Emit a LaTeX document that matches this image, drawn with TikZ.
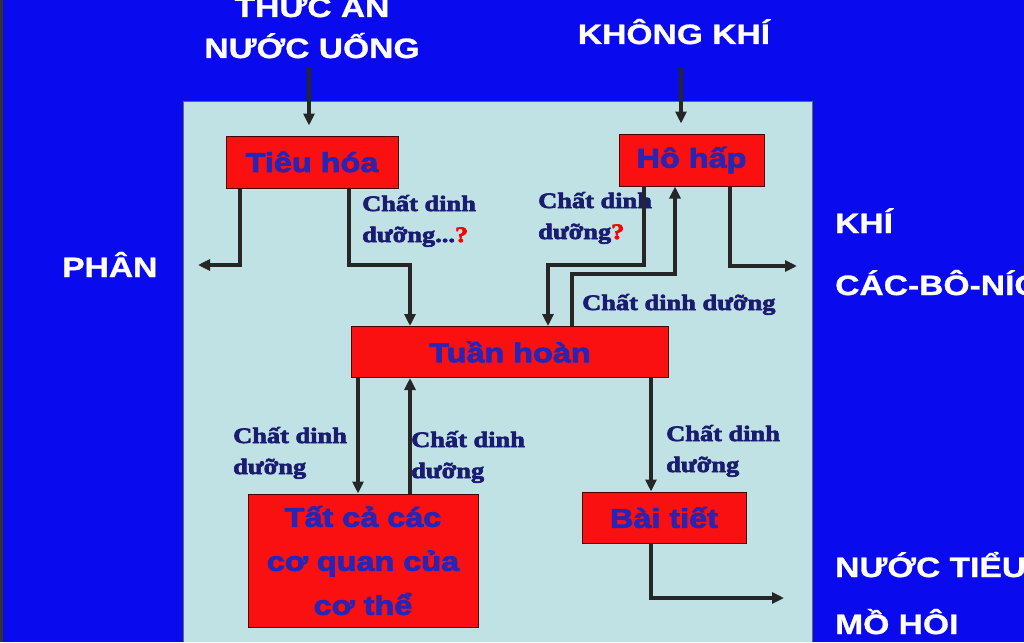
\documentclass[tikz,border=0pt]{standalone}
\usepackage{fontspec}
\usetikzlibrary{arrows.meta}
\newfontfamily\wsans{Liberation Sans}[UprightFont={* Bold}, FakeStretch=1.2, FakeBold=1]
\newfontfamily\bsans{Liberation Sans}[UprightFont={* Bold}, FakeStretch=1.2, FakeBold=3]
\newfontfamily\wserif{Liberation Serif}[UprightFont={* Bold}, FakeStretch=1.2, FakeBold=3]
\definecolor{bgblue}{RGB}{10,10,238}
\definecolor{panel}{RGB}{192,226,229}
\definecolor{boxred}{RGB}{250,16,16}
\definecolor{boxtext}{RGB}{40,36,180}
\definecolor{labtext}{RGB}{26,28,112}
\tikzset{
  box/.style={draw=black!70!red, line width=1pt, fill=boxred, text=boxtext,
    font=\bsans\fontsize{27}{44}\selectfont, inner sep=0pt, align=center},
  whitetxt/.style={text=white, font=\wsans\fontsize{28}{41}\selectfont, inner sep=0pt, align=center},
  labtxt/.style={text=labtext, font=\wserif\fontsize{22}{31}\selectfont, inner sep=0pt, align=left, anchor=base west},
  arr/.style={line width=3.2pt, draw=black!85, -{Triangle[length=12pt,width=11pt]}},
}
\begin{document}
\begin{tikzpicture}[x=1pt,y=-1pt]
\useasboundingbox (0,0) rectangle (1024,642);
\clip (0,0) rectangle (1024,642);
\fill[bgblue] (0,0) rectangle (1024,642);
\fill[black!80] (0,0) rectangle (3,642);
\fill[panel] (183,101) rectangle (812,642);
\draw[black!60, line width=0.8pt] (183,642) -- (183,101) -- (812,101) -- (812,642);

% boxes
\node[box, minimum width=172pt, minimum height=52pt] (tieuhoa) at (312,162) {Tiêu hóa};
\node[box, minimum width=145pt, minimum height=52pt] (hohap) at (691.5,160) {Hô hấp};
\node[box, minimum width=317pt, minimum height=51pt] (tuanhoan) at (510,352) {Tuần hoàn};
\node[box, minimum width=230pt, minimum height=133pt] (tatca) at (363,560.5) {Tất cả các\\cơ quan của\\cơ thể};
\node[box, minimum width=164pt, minimum height=51pt] (baitiet) at (664,517.5) {Bài tiết};

% white texts
\node[whitetxt, anchor=base] (thucan) at (312,58) {THỨC ĂN\\NƯỚC UỐNG};
\node[whitetxt, anchor=base] (khongkhi) at (674,44) {KHÔNG KHÍ};
\node[whitetxt, anchor=base west] (phan) at (62,277) {PHÂN};
\node[whitetxt, anchor=base west] (khi) at (835,233) {KHÍ};
\node[whitetxt, anchor=base west] (cacbonic) at (835,295) {CÁC-BÔ-NÍC};
\node[whitetxt, anchor=base west] (nuoctieu) at (835,577) {NƯỚC TIỂU};
\node[whitetxt, anchor=base west] (mohoi) at (835,634) {MỒ HÔI};

% labels (base = last line)
\node[labtxt] (lab1) at (362,242) {Chất dinh\\dưỡng...\textcolor{red}{?}};
\node[labtxt] (lab2) at (538,239) {Chất dinh\\dưỡng\textcolor{red}{?}};
\node[labtxt] (lab3) at (582,310) {Chất dinh dưỡng};
\node[labtxt] (lab4) at (233,474) {Chất dinh\\dưỡng};
\node[labtxt] (lab5) at (411,478) {Chất dinh\\dưỡng};
\node[labtxt] (lab6) at (666,472) {Chất dinh\\dưỡng};

% free ends
\coordinate (phanin) at (198,265);
\coordinate (khiin) at (797,266);
\coordinate (nuocin) at (784,598);

% connectors
\draw[arr] (tieuhoa.north |- 0,68) ++(-3,0) -- ([xshift=-3pt,yshift=10pt]tieuhoa.north);
\draw[arr] (hohap.north |- 0,68) ++(-10.5,0) -- ([xshift=-10.5pt,yshift=10pt]hohap.north);
\draw[arr] (tieuhoa.south -| 240,0) |- (phanin);
\draw[arr] (tieuhoa.south -| 349,0) -- (349,265) -| (tuanhoan.north -| 410,0);
\draw[arr] (hohap.south -| 730,0) |- (khiin);
\draw[arr] (hohap.south -| 644,0) -- (644,265) -| (tuanhoan.north -| 548,0);
\draw[arr] (tuanhoan.north -| 572,0) -- (572,274) -| (hohap.south -| 675,0);
\draw[arr] (tuanhoan.south -| 358,0) -- (tatca.north -| 358,0);
\draw[arr] (tatca.north -| 410,0) -- (tuanhoan.south -| 410,0);
\draw[arr] (tuanhoan.south -| 651,0) -- (baitiet.north -| 651,0);
\draw[arr] (baitiet.south -| 651,0) |- (nuocin);
\end{tikzpicture}
\end{document}
